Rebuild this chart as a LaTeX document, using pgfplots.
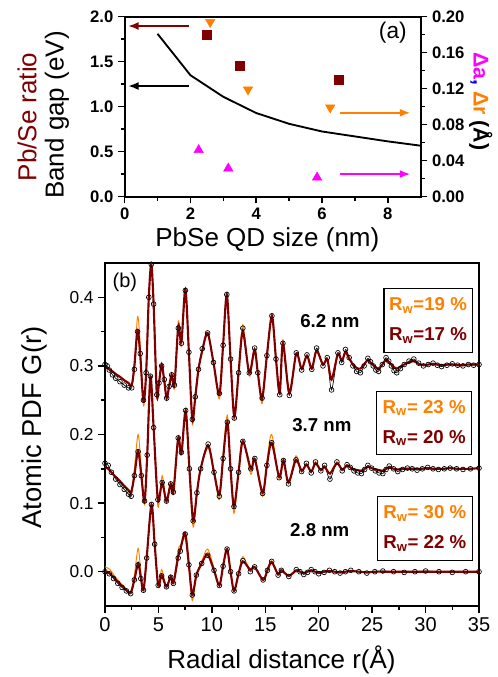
\documentclass[border=0pt]{standalone}
\usepackage{pgfplots}
\pgfplotsset{compat=1.18}
\usepackage{pgfplotstable}
\usepackage{fontspec}
\setmainfont{Liberation Sans}
\usetikzlibrary{arrows.meta}

\definecolor{darkred}{RGB}{128,0,0}
\definecolor{orng}{RGB}{255,128,0}
\definecolor{magn}{RGB}{255,0,255}
\newcommand{\fs}[1]{\fontsize{#1}{#1}\selectfont}

% r, data, red fit, orange fit
\pgfplotstableread{
r d f o
0.00 0.302 0.298 0.299
0.20 0.300 0.297 0.298
0.40 0.294 0.295 0.296
0.70 0.287 0.292 0.293
1.00 0.282 0.288 0.289
1.40 0.277 0.284 0.285
1.80 0.272 0.279 0.280
2.20 0.268 0.275 0.276
2.50 0.268 0.272 0.272
2.75 0.295 0.300 0.300
3.05 0.350 0.352 0.372
3.30 0.318 0.315 0.330
3.60 0.250 0.248 0.242
3.85 0.290 0.290 0.290
4.10 0.400 0.400 0.400
4.33 0.448 0.448 0.448
4.55 0.390 0.390 0.390
4.85 0.258 0.258 0.255
5.05 0.275 0.275 0.275
5.30 0.300 0.302 0.302
5.55 0.280 0.278 0.275
5.77 0.253 0.253 0.250
6.00 0.270 0.270 0.270
6.24 0.287 0.287 0.290
6.50 0.272 0.272 0.268
6.86 0.355 0.358 0.365
7.15 0.333 0.335 0.328
7.52 0.410 0.412 0.410
7.85 0.320 0.320 0.318
8.17 0.222 0.222 0.215
8.45 0.255 0.255 0.260
8.75 0.295 0.295 0.298
9.10 0.325 0.322 0.322
9.60 0.348 0.348 0.345
10.15 0.305 0.305 0.305
10.70 0.260 0.258 0.252
11.05 0.330 0.330 0.330
11.40 0.404 0.404 0.404
11.75 0.310 0.310 0.310
12.10 0.224 0.226 0.222
12.50 0.290 0.290 0.290
12.90 0.355 0.350 0.360
13.50 0.290 0.290 0.285
14.00 0.326 0.324 0.322
14.30 0.290 0.290 0.290
14.70 0.253 0.252 0.245
15.15 0.315 0.315 0.315
15.62 0.373 0.373 0.370
16.00 0.310 0.310 0.310
16.35 0.258 0.260 0.260
16.65 0.333 0.333 0.338
17.25 0.257 0.260 0.265
17.90 0.319 0.318 0.318
18.40 0.294 0.296 0.296
18.90 0.316 0.315 0.315
19.35 0.295 0.296 0.296
19.80 0.326 0.322 0.322
20.40 0.300 0.302 0.302
20.80 0.312 0.310 0.310
21.20 0.265 0.280 0.282
21.80 0.319 0.318 0.318
22.15 0.305 0.307 0.307
22.50 0.324 0.320 0.320
22.85 0.312 0.311 0.311
23.20 0.300 0.302 0.302
23.55 0.292 0.297 0.297
23.90 0.290 0.296 0.296
24.25 0.300 0.302 0.302
24.60 0.311 0.309 0.309
24.85 0.306 0.305 0.305
25.10 0.300 0.301 0.301
25.35 0.294 0.298 0.298
25.60 0.292 0.296 0.296
25.95 0.302 0.302 0.302
26.30 0.312 0.309 0.309
26.55 0.307 0.306 0.306
26.80 0.300 0.302 0.302
27.05 0.293 0.298 0.298
27.30 0.290 0.296 0.296
27.65 0.296 0.299 0.299
28.00 0.302 0.302 0.302
28.45 0.307 0.305 0.305
28.90 0.310 0.307 0.307
29.35 0.304 0.303 0.303
29.80 0.300 0.301 0.301
30.25 0.302 0.302 0.302
30.70 0.304 0.303 0.303
31.10 0.301 0.302 0.302
31.50 0.299 0.301 0.301
32.00 0.301 0.302 0.302
32.50 0.303 0.302 0.302
33.00 0.301 0.301 0.301
33.50 0.300 0.301 0.301
34.00 0.302 0.302 0.302
34.50 0.301 0.302 0.302
35.00 0.302 0.302 0.302
}\sixtwo

\pgfplotstableread{
r d f o
0.00 0.158 0.153 0.153
0.30 0.155 0.150 0.150
0.60 0.145 0.145 0.145
1.00 0.135 0.138 0.137
1.40 0.127 0.132 0.130
1.80 0.120 0.125 0.123
2.20 0.113 0.119 0.117
2.45 0.110 0.116 0.113
2.75 0.140 0.140 0.150
3.10 0.175 0.176 0.200
3.40 0.140 0.140 0.150
3.70 0.103 0.102 0.098
3.95 0.170 0.170 0.170
4.25 0.285 0.285 0.285
4.55 0.210 0.210 0.210
4.95 0.105 0.105 0.095
5.35 0.130 0.130 0.140
5.75 0.103 0.103 0.100
6.15 0.128 0.128 0.130
6.40 0.116 0.116 0.114
6.85 0.195 0.195 0.196
7.15 0.174 0.172 0.170
7.55 0.235 0.235 0.232
7.90 0.150 0.150 0.145
8.25 0.074 0.074 0.065
8.60 0.115 0.115 0.115
8.95 0.150 0.150 0.150
9.65 0.186 0.184 0.180
10.20 0.145 0.145 0.145
10.70 0.110 0.112 0.105
11.05 0.165 0.165 0.170
11.45 0.218 0.218 0.228
11.75 0.150 0.150 0.150
12.07 0.095 0.095 0.085
12.50 0.145 0.145 0.145
12.90 0.190 0.190 0.192
13.65 0.150 0.150 0.142
14.02 0.165 0.164 0.166
14.75 0.114 0.115 0.110
15.15 0.155 0.155 0.160
15.60 0.188 0.188 0.200
16.30 0.137 0.138 0.135
16.70 0.162 0.162 0.165
17.17 0.128 0.130 0.130
17.87 0.163 0.163 0.169
18.40 0.146 0.147 0.145
18.85 0.158 0.156 0.158
19.30 0.144 0.146 0.146
19.70 0.160 0.158 0.160
20.20 0.147 0.148 0.148
20.55 0.155 0.153 0.154
21.05 0.135 0.143 0.144
21.70 0.160 0.158 0.160
22.20 0.147 0.149 0.149
22.65 0.156 0.155 0.156
22.95 0.152 0.152 0.152
23.30 0.147 0.149 0.149
23.65 0.144 0.148 0.148
24.00 0.143 0.147 0.148
24.30 0.149 0.150 0.150
24.60 0.155 0.153 0.153
24.95 0.151 0.151 0.151
25.30 0.147 0.149 0.150
25.65 0.144 0.148 0.149
26.00 0.143 0.147 0.148
26.30 0.149 0.150 0.150
26.60 0.154 0.152 0.152
27.00 0.150 0.150 0.150
27.40 0.146 0.149 0.149
27.85 0.149 0.150 0.150
28.30 0.151 0.150 0.150
28.75 0.150 0.150 0.150
29.20 0.148 0.150 0.150
29.70 0.150 0.150 0.150
30.20 0.152 0.151 0.151
30.70 0.150 0.150 0.150
31.20 0.149 0.150 0.150
31.75 0.150 0.150 0.150
32.30 0.151 0.151 0.151
32.90 0.150 0.150 0.150
33.50 0.149 0.150 0.150
34.20 0.150 0.150 0.150
35.00 0.151 0.151 0.151
}\threeseven

\pgfplotstableread{
r d f o
0.00 0.000 0.000 0.007
0.40 -0.003 -0.002 0.004
0.80 -0.010 -0.008 -0.004
1.20 -0.017 -0.015 -0.012
1.60 -0.023 -0.021 -0.019
2.00 -0.028 -0.027 -0.025
2.40 -0.032 -0.031 -0.030
2.75 -0.012 -0.012 -0.005
3.10 0.010 0.012 0.034
3.35 -0.010 -0.008 0.000
3.60 -0.027 -0.027 -0.027
3.90 0.020 0.020 0.020
4.35 0.098 0.098 0.098
4.65 0.040 0.040 0.040
4.98 -0.020 -0.020 -0.022
5.30 -0.006 -0.005 0.003
5.75 -0.022 -0.022 -0.022
6.15 -0.008 -0.007 -0.006
6.40 -0.017 -0.017 -0.015
6.85 0.020 0.022 0.032
7.05 0.030 0.032 0.038
7.50 0.055 0.056 0.048
7.85 0.010 0.010 0.005
8.17 -0.034 -0.034 -0.042
8.55 -0.005 -0.005 -0.005
9.05 0.012 0.012 0.015
9.60 0.024 0.025 0.033
10.20 0.002 0.002 0.005
10.70 -0.020 -0.020 -0.020
11.05 0.008 0.008 0.008
11.42 0.033 0.033 0.034
11.75 0.000 0.000 0.000
12.08 -0.028 -0.028 -0.028
12.50 -0.003 -0.003 -0.002
12.90 0.016 0.015 0.022
13.60 0.000 0.003 0.001
14.00 0.007 0.007 0.007
14.80 -0.012 -0.012 -0.012
15.20 0.002 0.002 0.005
15.60 0.015 0.014 0.016
16.20 -0.005 -0.004 -0.004
16.50 0.002 0.002 0.004
17.20 -0.007 -0.006 -0.005
17.90 0.003 0.002 0.003
18.25 0.000 0.000 0.000
18.60 -0.004 -0.002 -0.002
18.95 -0.001 0.000 0.000
19.30 0.003 0.002 0.002
19.65 0.000 0.000 0.000
20.00 -0.003 -0.001 -0.001
20.50 -0.001 0.000 0.000
21.00 0.002 0.001 0.001
21.50 0.000 0.000 0.000
22.00 -0.002 -0.001 0.000
22.50 0.000 0.000 0.000
23.00 0.002 0.001 0.001
23.75 0.000 0.000 0.000
24.50 -0.002 -0.001 -0.001
25.25 0.000 0.000 0.000
26.00 0.001 0.000 0.000
27.00 0.000 0.000 0.000
28.00 -0.001 0.000 0.000
29.00 0.000 0.000 0.000
30.00 0.001 0.000 0.000
31.25 0.000 0.000 0.000
32.50 -0.001 0.000 0.000
33.75 0.000 0.000 0.000
35.00 0.000 0.000 0.000
}\twoeight

\pgfplotsset{
  orfit/.style={orng, line width=0.7pt, smooth, tension=0.5},
  rdfit/.style={darkred, line width=1.6pt, smooth, tension=0.5},
  dataline/.style={black, line width=0.5pt, smooth, tension=0.5},
  pdfdata/.style={only marks, mark=o, mark size=1.8pt, black, mark options={line width=0.5pt}},
}

\begin{document}
\begin{tikzpicture}
\useasboundingbox (0,0) rectangle (372.75pt,507.75pt);

% ---------- panel (b): PDF ----------
\begin{axis}[
    at={(78.75pt,53.25pt)}, anchor=south west,
    scale only axis, width=280.5pt, height=257.25pt,
    xmin=0, xmax=35, ymin=-0.05, ymax=0.45,
    xtick={0,5,...,35}, minor x tick num=1,
    ytick={0,0.1,0.2,0.3,0.4}, minor y tick num=1,
    xtick pos=bottom, ytick pos=left,
    tick align=outside,
    major tick length=5pt, minor tick length=3pt,
    tick style={line width=1.1pt, black},
    axis line style={line width=1.4pt},
    /pgf/number format/assume math mode=true,
    xticklabel style={font=\fs{15}},
    yticklabel style={font=\fs{13}, /pgf/number format/.cd, fixed, fixed zerofill, precision=1},
    clip=false,
]
\addplot[dataline] table[x=r, y=d] {\sixtwo};
\addplot[orfit] table[x=r, y=o] {\sixtwo};
\addplot[rdfit] table[x=r, y=f] {\sixtwo};
\addplot[pdfdata] table[x=r, y=d] {\sixtwo};
\addplot[dataline] table[x=r, y=d] {\threeseven};
\addplot[orfit] table[x=r, y=o] {\threeseven};
\addplot[rdfit] table[x=r, y=f] {\threeseven};
\addplot[pdfdata] table[x=r, y=d] {\threeseven};
\addplot[dataline] table[x=r, y=d] {\twoeight};
\addplot[orfit] table[x=r, y=o] {\twoeight};
\addplot[rdfit] table[x=r, y=f] {\twoeight};
\addplot[pdfdata] table[x=r, y=d] {\twoeight};
\node[font=\fs{15}] at (rel axis cs:0.053,0.945) {(b)};
\node[font=\bfseries\fs{14}] at (axis cs:21.05,0.366) {6.2 nm};
\node[font=\bfseries\fs{14}] at (axis cs:20.3,0.214) {3.7 nm};
\node[font=\bfseries\fs{14}] at (axis cs:20.1,0.061) {2.8 nm};
\node[draw, line width=0.8pt, minimum width=66pt, minimum height=48pt, align=center, font=\bfseries\fontsize{14}{22.5}\selectfont]
  at (axis cs:30.23,0.366) {\textcolor{orng}{R\textsubscript{w}=19 \%}\\\textcolor{darkred}{R\textsubscript{w}=17 \%}};
\node[draw, line width=0.8pt, minimum width=71pt, minimum height=47pt, align=center, font=\bfseries\fontsize{14}{22.5}\selectfont]
  at (axis cs:29.87,0.2168) {\textcolor{orng}{R\textsubscript{w}= 23 \%}\\\textcolor{darkred}{R\textsubscript{w}= 20 \%}};
\node[draw, line width=0.8pt, minimum width=71pt, minimum height=48pt, align=center, font=\bfseries\fontsize{14}{22.5}\selectfont]
  at (axis cs:29.93,0.063) {\textcolor{orng}{R\textsubscript{w}= 30 \%}\\\textcolor{darkred}{R\textsubscript{w}= 22 \%}};
\node[font=\fs{19.5}, anchor=base] at (rel axis cs:0.472,0) [yshift=-46.5pt] {Radial distance r(Å)};
\node[font=\fs{20.5}, rotate=90] at (rel axis cs:-0.19,0.52) {Atomic PDF G(r)};
\end{axis}

% ---------- panel (a): left axis ----------
\begin{axis}[
    at={(93.5pt,360.2pt)}, anchor=south west,
    scale only axis, width=222pt, height=135pt,
    xmin=0, xmax=9, ymin=0, ymax=2,
    xtick={0,2,...,8}, minor x tick num=1,
    ytick={0,0.5,...,2}, minor y tick num=1,
    xtick pos=bottom, ytick pos=left,
    tick align=outside,
    major tick length=5pt, minor tick length=3pt,
    tick style={line width=1.1pt, black},
    axis line style={line width=1.4pt},
    /pgf/number format/assume math mode=true,
    xticklabel style={font=\bfseries\fs{12.5}},
    yticklabel style={font=\bfseries\fs{12.5}, /pgf/number format/.cd, fixed, fixed zerofill, precision=1},
    clip=false,
]
\addplot[black, line width=1.4pt] coordinates {
    (1,1.81) (2,1.35) (3,1.11) (4,0.93) (5,0.81) (6,0.725) (7,0.67) (8,0.615) (9,0.567)};
\addplot[only marks, mark=square*, darkred, mark size=3.4pt] coordinates {
    (2.5,1.80) (3.5,1.45) (6.5,1.30)};
\draw[darkred, line width=1.5pt, -{Latex[length=8pt,width=6pt]}] (axis cs:1.95,1.897) -- (axis cs:0.1,1.897);
\draw[black, line width=1.5pt, -{Latex[length=8pt,width=6pt]}] (axis cs:1.95,1.23) -- (axis cs:0.1,1.23);
\node[font=\fs{17}] at (rel axis cs:0.906,0.909) {(a)};
\node[font=\fs{19.5}, anchor=base] at (rel axis cs:0.482,0) [yshift=-37.7pt] {PbSe QD size (nm)};
\node[font=\fs{19.5}, rotate=90, darkred] at (rel axis cs:-0.33,0.443) {Pb/Se ratio};
\node[font=\fs{19.5}, rotate=90] at (rel axis cs:-0.229,0.454) {Band gap (eV)};
\end{axis}

% ---------- panel (a): right axis ----------
\begin{axis}[
    at={(93.5pt,360.2pt)}, anchor=south west,
    scale only axis, width=222pt, height=135pt,
    xmin=0, xmax=9, ymin=0, ymax=0.2,
    axis x line=none, axis y line*=right,
    ytick={0,0.04,...,0.2}, minor y tick num=1,
    tick align=outside,
    major tick length=5pt, minor tick length=3pt,
    tick style={line width=1.1pt, black},
    axis line style={line width=1.4pt},
    /pgf/number format/assume math mode=true,
    yticklabel style={font=\bfseries\fs{12.5}, /pgf/number format/.cd, fixed, fixed zerofill, precision=2},
    clip=false,
]
\addplot[only marks, mark=triangle*, orng, mark size=4pt, mark options={rotate=180}] coordinates {
    (2.6,0.194) (3.75,0.119) (6.25,0.099)};
\addplot[only marks, mark=triangle*, magn, mark size=4pt] coordinates {
    (2.25,0.052) (3.15,0.0315) (5.85,0.0215)};
\draw[orng, line width=1.5pt, -{Latex[length=8pt,width=6pt]}] (axis cs:6.55,0.0933) -- (axis cs:8.69,0.0933);
\draw[magn, line width=1.5pt, -{Latex[length=8pt,width=6pt]}] (axis cs:6.55,0.0252) -- (axis cs:8.69,0.0252);
\node[font=\bfseries\fs{16}, rotate=-90] at (rel axis cs:1.203,0.53)
  {\textcolor{magn}{Δa}\textcolor{blue}{,} \textcolor{orng}{Δr} (Å)};
\end{axis}
\end{tikzpicture}
\end{document}
